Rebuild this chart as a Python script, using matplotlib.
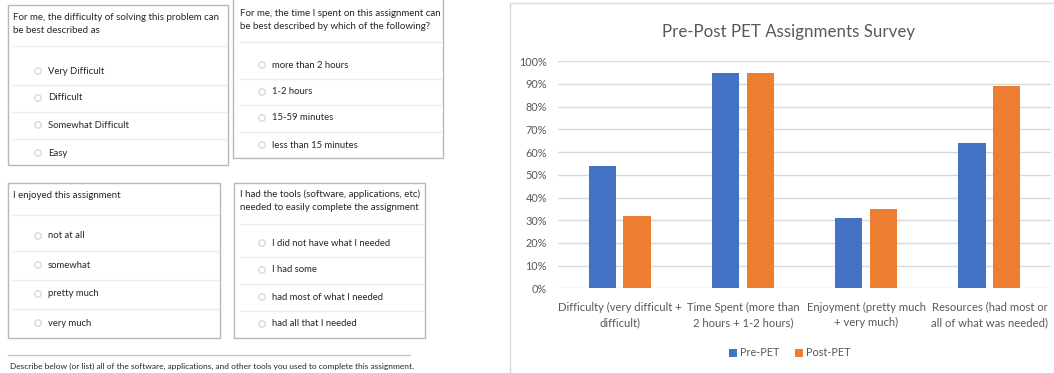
import matplotlib
matplotlib.use("Agg")
import matplotlib.pyplot as plt
import numpy as np
from matplotlib.patches import Rectangle, Circle

plt.rcParams['font.family'] = ['Lato', 'DejaVu Sans']

# ---- survey form (left) ----
questions = [
    "For me, the difficulty of solving this problem can\nbe best described as",
    "For me, the time I spent on this assignment can\nbe best described by which of the following?",
    "I enjoyed this assignment",
    "I had the tools (software, applications, etc)\nneeded to easily complete the assignment",
]
options = [
    ["Very Difficult", "Difficult", "Somewhat Difficult", "Easy"],
    ["more than 2 hours", "1-2 hours", "15-59 minutes", "less than 15 minutes"],
    ["not at all", "somewhat", "pretty much", "very much"],
    ["I did not have what I needed", "I had some", "had most of what I needed", "had all that I needed"],
]
footer = "Describe below (or list) all of the software, applications, and other tools you used to complete this assignment."

# ---- bar chart (right) ----
title = "Pre-Post PET Assignments Survey"
categories = [
    "Difficulty (very difficult +\ndifficult)",
    "Time Spent (more than\n2 hours + 1-2 hours)",
    "Enjoyment (pretty much\n+ very much)",
    "Resources (had most or\nall of what was needed)",
]
pre_pet = [0.54, 0.95, 0.31, 0.64]
post_pet = [0.32, 0.95, 0.35, 0.89]
series_names = ["Pre-PET", "Post-PET"]

W, H = 1054, 373
fig = plt.figure(figsize=(W / 100, H / 100), dpi=100)
fig.patch.set_facecolor("white")

# pixel-space overlay for the form screenshot
form = fig.add_axes([0, 0, 1, 1])
form.set_xlim(0, W)
form.set_ylim(H, 0)
form.axis("off")

# box layout: (x0, x1, y0, y1, text_x, q_y, sep_y, opt_ys, radio_x)
boxes = [
    (8, 228, 5, 165, 13, 24, 46, [71, 98, 125, 153], 38),
    (233, 443, -2, 158, 240, 20, 42, [65, 92, 118, 145], 262),
    (8, 220, 183, 338, 13, 196, 215, [236, 265, 294, 323], 38),
    (234, 425, 183, 338, 240, 201, 224, [243, 270, 297, 324], 262),
]
txt_col = "#262626"
for (x0, x1, y0, y1, tx, qy, sy, oys, rx), q, opts in zip(boxes, questions, options):
    form.add_patch(Rectangle((x0, y0), x1 - x0, y1 - y0, fill=False,
                             edgecolor="#b8b8b8", lw=1.0))
    form.text(tx, qy, q, fontsize=7.0, color=txt_col, va="center", ha="left",
              linespacing=1.6)
    seps = [sy] + [(a + b) / 2 for a, b in zip(oys[:-1], oys[1:])]
    for s in seps:
        form.plot([tx, x1 - 2], [s, s], color="#ececec", lw=1.0)
    for oy, o in zip(oys, opts):
        form.add_patch(Circle((rx, oy), 3.2, fill=False, edgecolor="#d0d0d0", lw=0.8))
        form.text(rx + 10, oy, o, fontsize=6.8, color=txt_col, va="center", ha="left")

form.plot([8, 410], [355, 355], color="#c8c8c8", lw=1.0)
form.text(10, 366, footer, fontsize=6.0, color=txt_col, va="center", ha="left")

# chart panel border
form.add_patch(Rectangle((510, 3), 600, 400, fill=False, edgecolor="#d9d9d9", lw=1.0))

# ---- bar chart ----
ax_l, ax_r, ax_b, ax_t = 558, 1051, 288.3, 61.3
ax = fig.add_axes([ax_l / W, 1 - ax_b / H, (ax_r - ax_l) / W, (ax_b - ax_t) / H])
x = np.arange(len(categories))
bw = 0.222
off = 0.141
b1 = ax.bar(x - off, pre_pet, bw, color="#4472C4", label=series_names[0], zorder=3)
b2 = ax.bar(x + off, post_pet, bw, color="#ED7D31", label=series_names[1], zorder=3)
ax.set_xlim(-0.5, len(categories) - 0.5)
ax.set_ylim(0, 1.0)
yt = np.arange(0, 1.01, 0.1)
ax.set_yticks(yt)
ax.set_yticklabels([f"{int(round(v * 100))}%" for v in yt])
ax.yaxis.grid(True, color="#d9d9d9", lw=1.0, zorder=0)
ax.set_axisbelow(True)
for s in ax.spines.values():
    s.set_visible(False)
ax.tick_params(axis="y", length=0, pad=8, labelsize=7.8, labelcolor="#595959")
ax.set_xticks(x)
ax.set_xticklabels(categories)
ax.tick_params(axis="x", length=0, pad=9.5, labelsize=8.1, labelcolor="#595959")
for t in ax.get_xticklabels():
    t.set_linespacing(1.5)

fig.text(789 / W, 1 - 32 / H, title, fontsize=12.2, color="#595959", ha="center", va="center")

fig.legend(handles=[b1, b2], labels=series_names, loc="center",
           bbox_to_anchor=(790 / W, 1 - 353 / H), ncol=2, frameon=False,
           fontsize=7.8, labelcolor="#595959", handlelength=0.7, handleheight=0.7,
           handletextpad=0.35, columnspacing=1.4)

fig.savefig("out.png", dpi=100, facecolor="white")
